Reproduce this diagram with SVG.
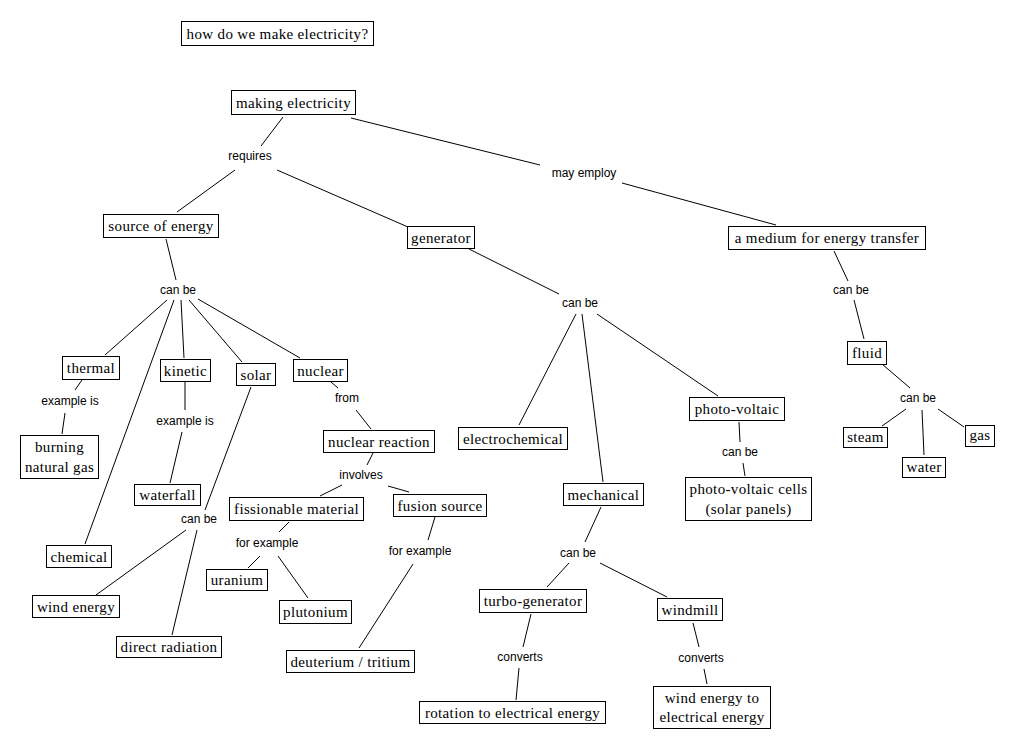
<svg xmlns="http://www.w3.org/2000/svg" width="1015" height="750" viewBox="0 0 1015 750">
<style>
.b rect{fill:#fff;stroke:#000;stroke-width:1}
.b text{font-family:"Liberation Serif","Times New Roman",serif;font-size:15px;letter-spacing:0.35px;text-anchor:middle;fill:#000}
.l{font-family:"Liberation Sans",Arial,sans-serif;font-size:12px;text-anchor:middle;fill:#000}
#connectors line{stroke:#000;stroke-width:1}
</style>
<rect width="1015" height="750" fill="#fff"/>
<g id="connectors">
<line x1="283" y1="117" x2="261" y2="146"/>
<line x1="235" y1="170" x2="177" y2="212"/>
<line x1="277" y1="170" x2="408" y2="227"/>
<line x1="351" y1="118" x2="540" y2="165"/>
<line x1="622" y1="183" x2="776" y2="225"/>
<line x1="166" y1="239" x2="176" y2="280"/>
<line x1="167" y1="300" x2="105" y2="355"/>
<line x1="174" y1="300" x2="85" y2="544"/>
<line x1="181" y1="300" x2="184" y2="358"/>
<line x1="189" y1="300" x2="242" y2="362"/>
<line x1="198" y1="299" x2="300" y2="358"/>
<line x1="82" y1="380" x2="75" y2="390"/>
<line x1="65" y1="413" x2="62" y2="434"/>
<line x1="185" y1="382" x2="185" y2="410"/>
<line x1="182" y1="432" x2="170" y2="483"/>
<line x1="251" y1="387" x2="205" y2="510"/>
<line x1="186" y1="530" x2="96" y2="595"/>
<line x1="197" y1="530" x2="172" y2="635"/>
<line x1="331" y1="382" x2="338" y2="388"/>
<line x1="356" y1="410" x2="371" y2="429"/>
<line x1="373" y1="453" x2="367" y2="465"/>
<line x1="342" y1="485" x2="320" y2="496"/>
<line x1="388" y1="486" x2="409" y2="492"/>
<line x1="289" y1="522" x2="279" y2="532"/>
<line x1="260" y1="556" x2="248" y2="568"/>
<line x1="278" y1="556" x2="308" y2="598"/>
<line x1="435" y1="517" x2="428" y2="540"/>
<line x1="413" y1="564" x2="359" y2="648"/>
<line x1="469" y1="249" x2="559" y2="294"/>
<line x1="576" y1="314" x2="519" y2="425"/>
<line x1="582" y1="314" x2="603" y2="482"/>
<line x1="597" y1="314" x2="718" y2="396"/>
<line x1="739" y1="422" x2="740" y2="442"/>
<line x1="743" y1="463" x2="745" y2="476"/>
<line x1="601" y1="507" x2="585" y2="542"/>
<line x1="569" y1="563" x2="547" y2="587"/>
<line x1="600" y1="563" x2="667" y2="597"/>
<line x1="531" y1="614" x2="523" y2="647"/>
<line x1="519" y1="668" x2="516" y2="700"/>
<line x1="693" y1="623" x2="699" y2="647"/>
<line x1="704" y1="669" x2="707" y2="684"/>
<line x1="834" y1="251" x2="848" y2="281"/>
<line x1="854" y1="300" x2="864" y2="339"/>
<line x1="882" y1="364" x2="910" y2="388"/>
<line x1="906" y1="409" x2="882" y2="426"/>
<line x1="922" y1="410" x2="924" y2="455"/>
<line x1="938" y1="409" x2="964" y2="427"/>
</g>
<g id="labels">
<text class="l" x="250" y="160">requires</text>
<text class="l" x="584" y="177">may employ</text>
<text class="l" x="178" y="294">can be</text>
<text class="l" x="70" y="405">example is</text>
<text class="l" x="185" y="425">example is</text>
<text class="l" x="199" y="523">can be</text>
<text class="l" x="347" y="402">from</text>
<text class="l" x="361" y="479">involves</text>
<text class="l" x="267" y="547">for example</text>
<text class="l" x="420" y="555">for example</text>
<text class="l" x="580" y="307">can be</text>
<text class="l" x="740" y="456">can be</text>
<text class="l" x="578" y="557">can be</text>
<text class="l" x="520" y="661">converts</text>
<text class="l" x="701" y="662">converts</text>
<text class="l" x="851" y="294">can be</text>
<text class="l" x="918" y="402">can be</text>
</g>
<g id="n-question" class="b"><rect x="181.5" y="21.5" width="192" height="24"/><text x="277.5" y="38.5">how do we make electricity?</text></g>
<g id="n-making" class="b"><rect x="231.5" y="90.5" width="124" height="24"/><text x="293.5" y="107.5">making electricity</text></g>
<g id="n-source" class="b"><rect x="103.5" y="214.5" width="115" height="23"/><text x="161" y="231">source of energy</text></g>
<g id="n-generator" class="b"><rect x="407.5" y="226.5" width="67" height="22"/><text x="441" y="242.5">generator</text></g>
<g id="n-medium" class="b"><rect x="728.5" y="226.5" width="197" height="23"/><text x="827" y="243">a medium for energy transfer</text></g>
<g id="n-thermal" class="b"><rect x="62.5" y="356.5" width="57" height="23"/><text x="91" y="373">thermal</text></g>
<g id="n-kinetic" class="b"><rect x="160.5" y="359.5" width="50" height="22"/><text x="185.5" y="375.5">kinetic</text></g>
<g id="n-solar" class="b"><rect x="236.5" y="363.5" width="39" height="22"/><text x="256" y="379.5">solar</text></g>
<g id="n-nuclear" class="b"><rect x="293.5" y="359.5" width="54" height="22"/><text x="320.5" y="375.5">nuclear</text></g>
<g id="n-burning" class="b"><rect x="20.5" y="435.5" width="78" height="43"/><text x="59.5" y="452">burning</text><text x="59.5" y="471.5">natural gas</text></g>
<g id="n-waterfall" class="b"><rect x="134.5" y="484.5" width="66" height="21"/><text x="167.5" y="500">waterfall</text></g>
<g id="n-chemical" class="b"><rect x="46.5" y="545.5" width="65" height="22"/><text x="79" y="561.5">chemical</text></g>
<g id="n-wind" class="b"><rect x="32.5" y="595.5" width="87" height="22"/><text x="76" y="611.5">wind energy</text></g>
<g id="n-direct" class="b"><rect x="116.5" y="636.5" width="105" height="21"/><text x="169" y="652">direct radiation</text></g>
<g id="n-reaction" class="b"><rect x="323.5" y="430.5" width="111" height="22"/><text x="379" y="446.5">nuclear reaction</text></g>
<g id="n-fission" class="b"><rect x="229.5" y="497.5" width="134" height="23"/><text x="296.5" y="514">fissionable material</text></g>
<g id="n-fusion" class="b"><rect x="393.5" y="494.5" width="93" height="22"/><text x="440" y="510.5">fusion source</text></g>
<g id="n-uranium" class="b"><rect x="206.5" y="569.5" width="61" height="21"/><text x="237" y="585">uranium</text></g>
<g id="n-plutonium" class="b"><rect x="279.5" y="600.5" width="72" height="23"/><text x="315.5" y="617">plutonium</text></g>
<g id="n-deuterium" class="b"><rect x="286.5" y="650.5" width="128" height="22"/><text x="350.5" y="666.5">deuterium / tritium</text></g>
<g id="n-electrochemical" class="b"><rect x="458.5" y="427.5" width="109" height="22"/><text x="513" y="443.5">electrochemical</text></g>
<g id="n-pv" class="b"><rect x="689.5" y="397.5" width="95" height="23"/><text x="737" y="414">photo-voltaic</text></g>
<g id="n-pvcells" class="b"><rect x="685.5" y="477.5" width="126" height="43"/><text x="748.5" y="494">photo-voltaic cells</text><text x="748.5" y="513.5">(solar panels)</text></g>
<g id="n-mechanical" class="b"><rect x="563.5" y="483.5" width="80" height="22"/><text x="603.5" y="499.5">mechanical</text></g>
<g id="n-turbo" class="b"><rect x="479.5" y="589.5" width="107" height="23"/><text x="533" y="606">turbo-generator</text></g>
<g id="n-windmill" class="b"><rect x="657.5" y="598.5" width="65" height="22"/><text x="690" y="614.5">windmill</text></g>
<g id="n-rotation" class="b"><rect x="419.5" y="701.5" width="186" height="22"/><text x="512.5" y="717.5">rotation to electrical energy</text></g>
<g id="n-windtoelec" class="b"><rect x="653.5" y="686.5" width="117" height="42"/><text x="712" y="702.5">wind energy to</text><text x="712" y="721.5">electrical energy</text></g>
<g id="n-fluid" class="b"><rect x="847.5" y="341.5" width="39" height="23"/><text x="867" y="358">fluid</text></g>
<g id="n-steam" class="b"><rect x="843.5" y="427.5" width="44" height="20"/><text x="865.5" y="442">steam</text></g>
<g id="n-water" class="b"><rect x="902.5" y="457.5" width="43" height="20"/><text x="924" y="472">water</text></g>
<g id="n-gas" class="b"><rect x="965.5" y="425.5" width="29" height="21"/><text x="980" y="440">gas</text></g>
</svg>
